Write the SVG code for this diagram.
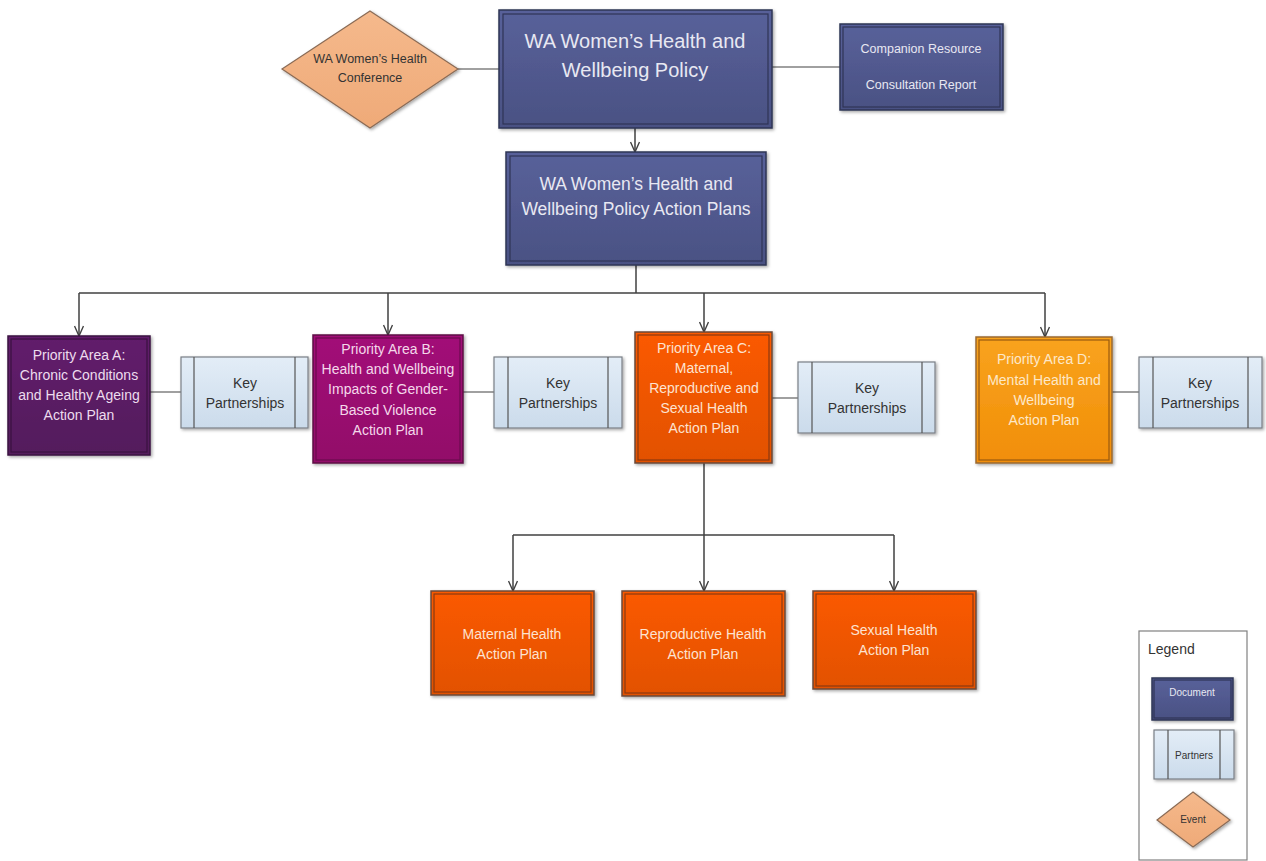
<svg xmlns="http://www.w3.org/2000/svg" width="1266" height="861" viewBox="0 0 1266 861">
<defs>
<linearGradient id="gDoc" x1="0" y1="0" x2="0" y2="1"><stop offset="0" stop-color="#58619a"/><stop offset="1" stop-color="#4a5183"/></linearGradient>
<linearGradient id="gA" x1="0" y1="0" x2="0" y2="1"><stop offset="0" stop-color="#621f6c"/><stop offset="1" stop-color="#531a5c"/></linearGradient>
<linearGradient id="gB" x1="0" y1="0" x2="0" y2="1"><stop offset="0" stop-color="#a20d78"/><stop offset="1" stop-color="#920b69"/></linearGradient>
<linearGradient id="gC" x1="0" y1="0" x2="0" y2="1"><stop offset="0" stop-color="#fb5a00"/><stop offset="1" stop-color="#e25100"/></linearGradient>
<linearGradient id="gD" x1="0" y1="0" x2="0" y2="1"><stop offset="0" stop-color="#f9a31e"/><stop offset="1" stop-color="#f18e07"/></linearGradient>
<linearGradient id="gP" x1="0" y1="0" x2="0" y2="1"><stop offset="0" stop-color="#e3edf7"/><stop offset="1" stop-color="#cbdbeb"/></linearGradient>
<linearGradient id="gE" x1="0" y1="0" x2="0" y2="1"><stop offset="0" stop-color="#f5b98c"/><stop offset="1" stop-color="#efaa78"/></linearGradient>
<filter id="sh" x="-10%" y="-10%" width="130%" height="130%"><feDropShadow dx="1.5" dy="1.5" stdDeviation="1.5" flood-color="#000" flood-opacity="0.35"/></filter>
<marker id="arr" viewBox="0 0 12 10" refX="11" refY="5" markerWidth="12" markerHeight="10" markerUnits="userSpaceOnUse" orient="auto">
<path d="M1,0.5 L11,5 L1,9.5" fill="none" stroke="#404040" stroke-width="1.4"/>
</marker>
</defs>
<style>
text{font-family:"Liberation Sans",Arial,sans-serif;text-anchor:middle}
.lt{fill:#e8e8f2}
.lo{fill:#fde3d0}
.dk{fill:#333333}
.doc{fill:url(#gDoc);stroke:#2f3456;stroke-width:1.5;filter:url(#sh)}
.in{fill:none;stroke-width:1.2}
.part{fill:url(#gP);stroke:#7a7f86;stroke-width:1.2;filter:url(#sh)}
.pl{stroke:#555;stroke-width:1.2}
.ev{fill:url(#gE);stroke:#8a6b55;stroke-width:1.2;filter:url(#sh)}
.c{fill:none;stroke:#404040;stroke-width:1.5}
.cl{fill:none;stroke:#808080;stroke-width:1.5}
</style>

<g id="connectors">
<line class="cl" x1="458" y1="69" x2="499" y2="69"/>
<line class="cl" x1="772" y1="67" x2="840" y2="67"/>
<line class="c" x1="635" y1="128" x2="635" y2="152" marker-end="url(#arr)"/>
<path class="c" d="M636,265 V293"/>
<path class="c" d="M79,293 H1045"/>
<line class="c" x1="79" y1="293" x2="79" y2="336" marker-end="url(#arr)"/>
<line class="c" x1="388" y1="293" x2="388" y2="335" marker-end="url(#arr)"/>
<line class="c" x1="704" y1="293" x2="704" y2="332" marker-end="url(#arr)"/>
<line class="c" x1="1045" y1="293" x2="1045" y2="337" marker-end="url(#arr)"/>
<line class="cl" x1="150" y1="392" x2="181" y2="392"/>
<line class="cl" x1="463" y1="392" x2="494" y2="392"/>
<line class="cl" x1="772" y1="398" x2="798" y2="398"/>
<line class="cl" x1="1112" y1="392" x2="1139" y2="392"/>
<path class="c" d="M704,463 V535"/>
<path class="c" d="M513,535 H894"/>
<line class="c" x1="513" y1="535" x2="513" y2="591" marker-end="url(#arr)"/>
<line class="c" x1="704" y1="535" x2="704" y2="591" marker-end="url(#arr)"/>
<line class="c" x1="894" y1="535" x2="894" y2="591" marker-end="url(#arr)"/>
</g>

<g id="conference">
<polygon class="ev" points="370,11 458,69 370,128 282,69"/>
<text class="dk" font-size="12.5" x="370" y="63">WA Women’s Health</text>
<text class="dk" font-size="12.5" x="370" y="82">Conference</text>
</g>

<g id="policy">
<rect class="doc" x="499" y="10" width="273" height="118"/>
<rect class="in" x="503" y="14" width="265" height="110" stroke="#2f3456"/>
<text class="lt" font-size="20" x="635" y="48">WA Women’s Health and</text>
<text class="lt" font-size="20" x="635" y="77">Wellbeing Policy</text>
</g>

<g id="companion">
<rect class="doc" x="840" y="24" width="163" height="86"/>
<rect class="in" x="843" y="27" width="157" height="80" stroke="#2f3456"/>
<text class="lt" font-size="12.5" x="921" y="53">Companion Resource</text>
<text class="lt" font-size="12.5" x="921" y="89">Consultation Report</text>
</g>

<g id="actionplans">
<rect class="doc" x="506" y="152" width="260" height="113"/>
<rect class="in" x="510" y="156" width="252" height="105" stroke="#2f3456"/>
<text class="lt" font-size="17.5" x="636" y="190">WA Women’s Health and</text>
<text class="lt" font-size="17.5" x="636" y="215">Wellbeing Policy Action Plans</text>
</g>

<g id="areaA">
<rect x="8" y="336" width="142" height="119" fill="url(#gA)" stroke="#3a1240" stroke-width="1.5" filter="url(#sh)"/>
<rect class="in" x="11" y="339" width="136" height="113" stroke="#3a1240"/>
<g class="lo" font-size="14" style="fill:#eddcee">
<text x="79" y="360">Priority Area A:</text>
<text x="79" y="380">Chronic Conditions</text>
<text x="79" y="400">and Healthy Ageing</text>
<text x="79" y="420">Action Plan</text>
</g>
</g>

<g id="keyA">
<rect class="part" x="181" y="357" width="127" height="71"/>
<line class="pl" x1="194" y1="357" x2="194" y2="428"/>
<line class="pl" x1="295" y1="357" x2="295" y2="428"/>
<text class="dk" font-size="14" x="245" y="388">Key</text>
<text class="dk" font-size="14" x="245" y="408">Partnerships</text>
</g>

<g id="areaB">
<rect x="313" y="335" width="150" height="128" fill="url(#gB)" stroke="#5e0a45" stroke-width="1.5" filter="url(#sh)"/>
<rect class="in" x="316" y="338" width="144" height="122" stroke="#6a0a4d"/>
<g font-size="14" style="fill:#f4d8ea">
<text x="388" y="354">Priority Area B:</text>
<text x="388" y="374">Health and Wellbeing</text>
<text x="388" y="394">Impacts of Gender-</text>
<text x="388" y="415">Based Violence</text>
<text x="388" y="435">Action Plan</text>
</g>
</g>

<g id="keyB">
<rect class="part" x="494" y="357" width="128" height="71"/>
<line class="pl" x1="508" y1="357" x2="508" y2="428"/>
<line class="pl" x1="608" y1="357" x2="608" y2="428"/>
<text class="dk" font-size="14" x="558" y="388">Key</text>
<text class="dk" font-size="14" x="558" y="408">Partnerships</text>
</g>

<g id="areaC">
<rect x="635" y="332" width="137" height="131" fill="url(#gC)" stroke="#6b4a3a" stroke-width="1.5" filter="url(#sh)"/>
<rect class="in" x="638" y="335" width="131" height="125" stroke="#8a3a10"/>
<g class="lo" font-size="14">
<text x="704" y="353">Priority Area C:</text>
<text x="704" y="373">Maternal,</text>
<text x="704" y="393">Reproductive and</text>
<text x="704" y="413">Sexual Health</text>
<text x="704" y="433">Action Plan</text>
</g>
</g>

<g id="keyC">
<rect class="part" x="798" y="362" width="137" height="71"/>
<line class="pl" x1="812" y1="362" x2="812" y2="433"/>
<line class="pl" x1="922" y1="362" x2="922" y2="433"/>
<text class="dk" font-size="14" x="867" y="393">Key</text>
<text class="dk" font-size="14" x="867" y="413">Partnerships</text>
</g>

<g id="areaD">
<rect x="976" y="337" width="136" height="126" fill="url(#gD)" stroke="#9a6a30" stroke-width="1.5" filter="url(#sh)"/>
<rect class="in" x="979" y="340" width="130" height="120" stroke="#9a5a10"/>
<g font-size="14" style="fill:#fde8c8">
<text x="1044" y="364">Priority Area D:</text>
<text x="1044" y="385">Mental Health and</text>
<text x="1044" y="405">Wellbeing</text>
<text x="1044" y="425">Action Plan</text>
</g>
</g>

<g id="keyD">
<rect class="part" x="1139" y="357" width="123" height="71"/>
<line class="pl" x1="1153" y1="357" x2="1153" y2="428"/>
<line class="pl" x1="1248" y1="357" x2="1248" y2="428"/>
<text class="dk" font-size="14" x="1200" y="388">Key</text>
<text class="dk" font-size="14" x="1200" y="408">Partnerships</text>
</g>

<g id="maternal">
<rect x="431" y="591" width="163" height="104" fill="url(#gC)" stroke="#6b4a3a" stroke-width="1.5" filter="url(#sh)"/>
<rect class="in" x="434" y="594" width="157" height="98" stroke="#8a3a10"/>
<text class="lo" font-size="14" x="512" y="639">Maternal Health</text>
<text class="lo" font-size="14" x="512" y="659">Action Plan</text>
</g>

<g id="reproductive">
<rect x="622" y="591" width="163" height="105" fill="url(#gC)" stroke="#6b4a3a" stroke-width="1.5" filter="url(#sh)"/>
<rect class="in" x="625" y="594" width="157" height="99" stroke="#8a3a10"/>
<text class="lo" font-size="14" x="703" y="639">Reproductive Health</text>
<text class="lo" font-size="14" x="703" y="659">Action Plan</text>
</g>

<g id="sexual">
<rect x="813" y="591" width="163" height="98" fill="url(#gC)" stroke="#6b4a3a" stroke-width="1.5" filter="url(#sh)"/>
<rect class="in" x="816" y="594" width="157" height="92" stroke="#8a3a10"/>
<text class="lo" font-size="14" x="894" y="635">Sexual Health</text>
<text class="lo" font-size="14" x="894" y="655">Action Plan</text>
</g>

<g id="legend">
<rect x="1139" y="631" width="108" height="229" fill="#ffffff" stroke="#808080" stroke-width="1.2"/>
<text class="dk" font-size="14" x="1148" y="654" style="text-anchor:start">Legend</text>
<rect class="doc" x="1152" y="678" width="81" height="42"/>
<rect class="in" x="1154" y="680" width="77" height="38" stroke="#2f3456"/>
<text class="lt" font-size="10" x="1192" y="696">Document</text>
<rect class="part" x="1154" y="730" width="80" height="49"/>
<line class="pl" x1="1168" y1="730" x2="1168" y2="779"/>
<line class="pl" x1="1220" y1="730" x2="1220" y2="779"/>
<text class="dk" font-size="10" x="1194" y="759">Partners</text>
<polygon class="ev" points="1193,792 1230,820 1193,847 1157,820"/>
<text class="dk" font-size="10" x="1193" y="823">Event</text>
</g>
</svg>
